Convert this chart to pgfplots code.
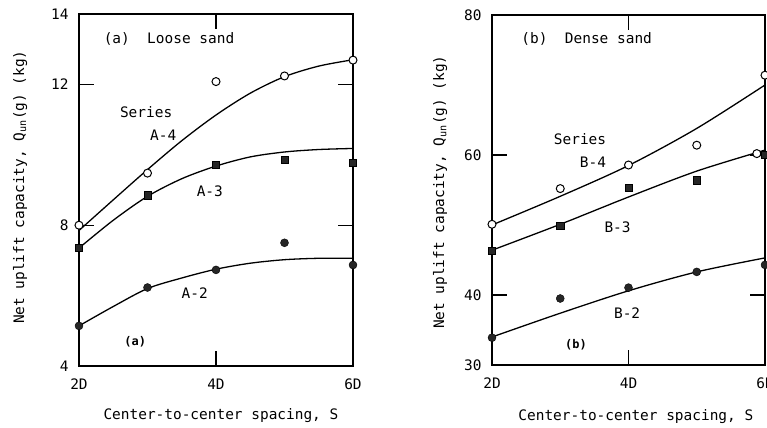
\documentclass[border=0pt]{standalone}
\usepackage{fontspec}
\setmainfont{DejaVu Sans Mono}
\usepackage{pgfplots}
\pgfplotsset{compat=1.18}

\pgfplotsset{
  panel/.style={
    scale only axis, clip=false, anchor=south west,
    axis line style={line width=1.6bp},
    tick align=inside, major tick length=15bp,
    tick style={line width=1.3bp, black},
    xmin=2, xmax=6, xtick={2,4,6}, xticklabels={2D,4D,6D},
    font=\fontsize{14.5}{16}\selectfont,
    xticklabel style={yshift=-9bp},
    yticklabel style={xshift=-7bp},
  },
  fit/.style={smooth, tension=0.5, no marks, black, line width=1.3bp},
  opencirc/.style={only marks, mark=*, mark size=4bp,
    mark options={draw=black, fill=white, line width=1bp}},
  fillsq/.style={only marks, mark=square*, mark size=3.6bp,
    mark options={draw=black, fill=black!85}},
  fillcirc/.style={only marks, mark=*, mark size=4bp,
    mark options={draw=black, fill=black!85}},
}
\tikzset{
  lbl/.style={font=\fontsize{14.5}{16}\selectfont},
  tag/.style={font=\fontsize{12}{14}\selectfont\bfseries},
}

\begin{document}
\begin{tikzpicture}

% (a) loose sand
\begin{axis}[panel,
  at={(79bp,62bp)}, width=274bp, height=352bp,
  ymin=4, ymax=14, ytick={4,8,12,14}, yticklabels={4,8,12,14},
  xlabel={Center-to-center spacing, S},
  xlabel style={at={(axis description cs:0.518,-0.142)}, anchor=center},
  ylabel={Net uplift capacity, Q\textsubscript{un}(g) (kg)},
  ylabel style={at={(axis description cs:-0.215,0.508)}, anchor=center},
]
% A-4
\addplot[fit] coordinates {(2,7.85) (2.5,8.72) (3,9.58) (3.5,10.4) (4,11.13)
  (4.5,11.75) (5,12.22) (5.5,12.52) (6,12.7)};
\addplot[opencirc] coordinates {(2,8.0) (3,9.48) (4,12.08) (5,12.24) (6,12.69)};
% A-3
\addplot[fit] coordinates {(2,7.35) (2.5,8.14) (3,8.82) (3.5,9.32) (4,9.68)
  (4.5,9.94) (5,10.08) (5.5,10.15) (6,10.18)};
\addplot[fillsq] coordinates {(2,7.37) (3,8.85) (4,9.72) (5,9.85) (6,9.78)};
% A-2
\addplot[fit] coordinates {(2,5.14) (2.5,5.69) (3,6.2) (3.5,6.5) (4,6.75)
  (4.5,6.92) (5,7.02) (5.5,7.06) (6,7.06)};
\addplot[fillcirc] coordinates {(2,5.14) (3,6.23) (4,6.73) (5,7.5) (6,6.87)};

\node[lbl, anchor=west] at (axis cs:2.31,13.29) {(a)~~Loose sand};
\node[lbl] at (axis cs:2.98,11.22) {Series};
\node[lbl] at (axis cs:3.23,10.56) {A-4};
\node[lbl] at (axis cs:3.91,8.97) {A-3};
\node[lbl] at (axis cs:3.69,6.07) {A-2};
\node[tag] at (axis cs:2.82,4.68) {(a)};
\end{axis}

% (b) dense sand
\begin{axis}[panel,
  at={(492bp,63bp)}, width=273bp, height=350bp,
  ymin=30, ymax=80, ytick={30,40,60,80}, yticklabels={30,40,60,80},
  xlabel={Center-to-center spacing, S},
  xlabel style={at={(axis description cs:0.527,-0.146)}, anchor=center},
  ylabel={Net uplift capacity, Q\textsubscript{un}(g) (kg)},
  ylabel style={at={(axis description cs:-0.19,0.494)}, anchor=center},
]
% B-4
\addplot[fit] coordinates {(2,50.0) (3,54.1) (4,58.5) (5,63.8) (6,70.0)};
\addplot[opencirc] coordinates {(2,50.1) (3,55.2) (4,58.57) (5,61.4) (6,71.4) (5.88,60.2)};
% B-3
\addplot[fit] coordinates {(2,46.4) (3,50.1) (4,54.0) (5,57.7) (6,60.7)};
\addplot[fillsq] coordinates {(2,46.3) (3,49.9) (4,55.3) (5,56.4) (6,60.0)};
% B-2
\addplot[fit] coordinates {(2,34.0) (3,37.4) (4,40.6) (5,43.3) (6,45.3)};
\addplot[fillcirc] coordinates {(2,33.9) (3,39.5) (4,41.05) (5,43.3) (6,44.3)};

\node[lbl, anchor=west] at (axis cs:2.38,76.6) {(b)~~Dense sand};
\node[lbl] at (axis cs:3.29,62.3) {Series};
\node[lbl] at (axis cs:3.48,59.0) {B-4};
\node[lbl] at (axis cs:3.84,49.7) {B-3};
\node[lbl] at (axis cs:3.98,37.4) {B-2};
\node[tag] at (axis cs:3.23,32.9) {(b)};
\end{axis}

\pgfresetboundingbox
\path[use as bounding box] (0,0) rectangle (767bp,428bp);
\end{tikzpicture}
\end{document}
